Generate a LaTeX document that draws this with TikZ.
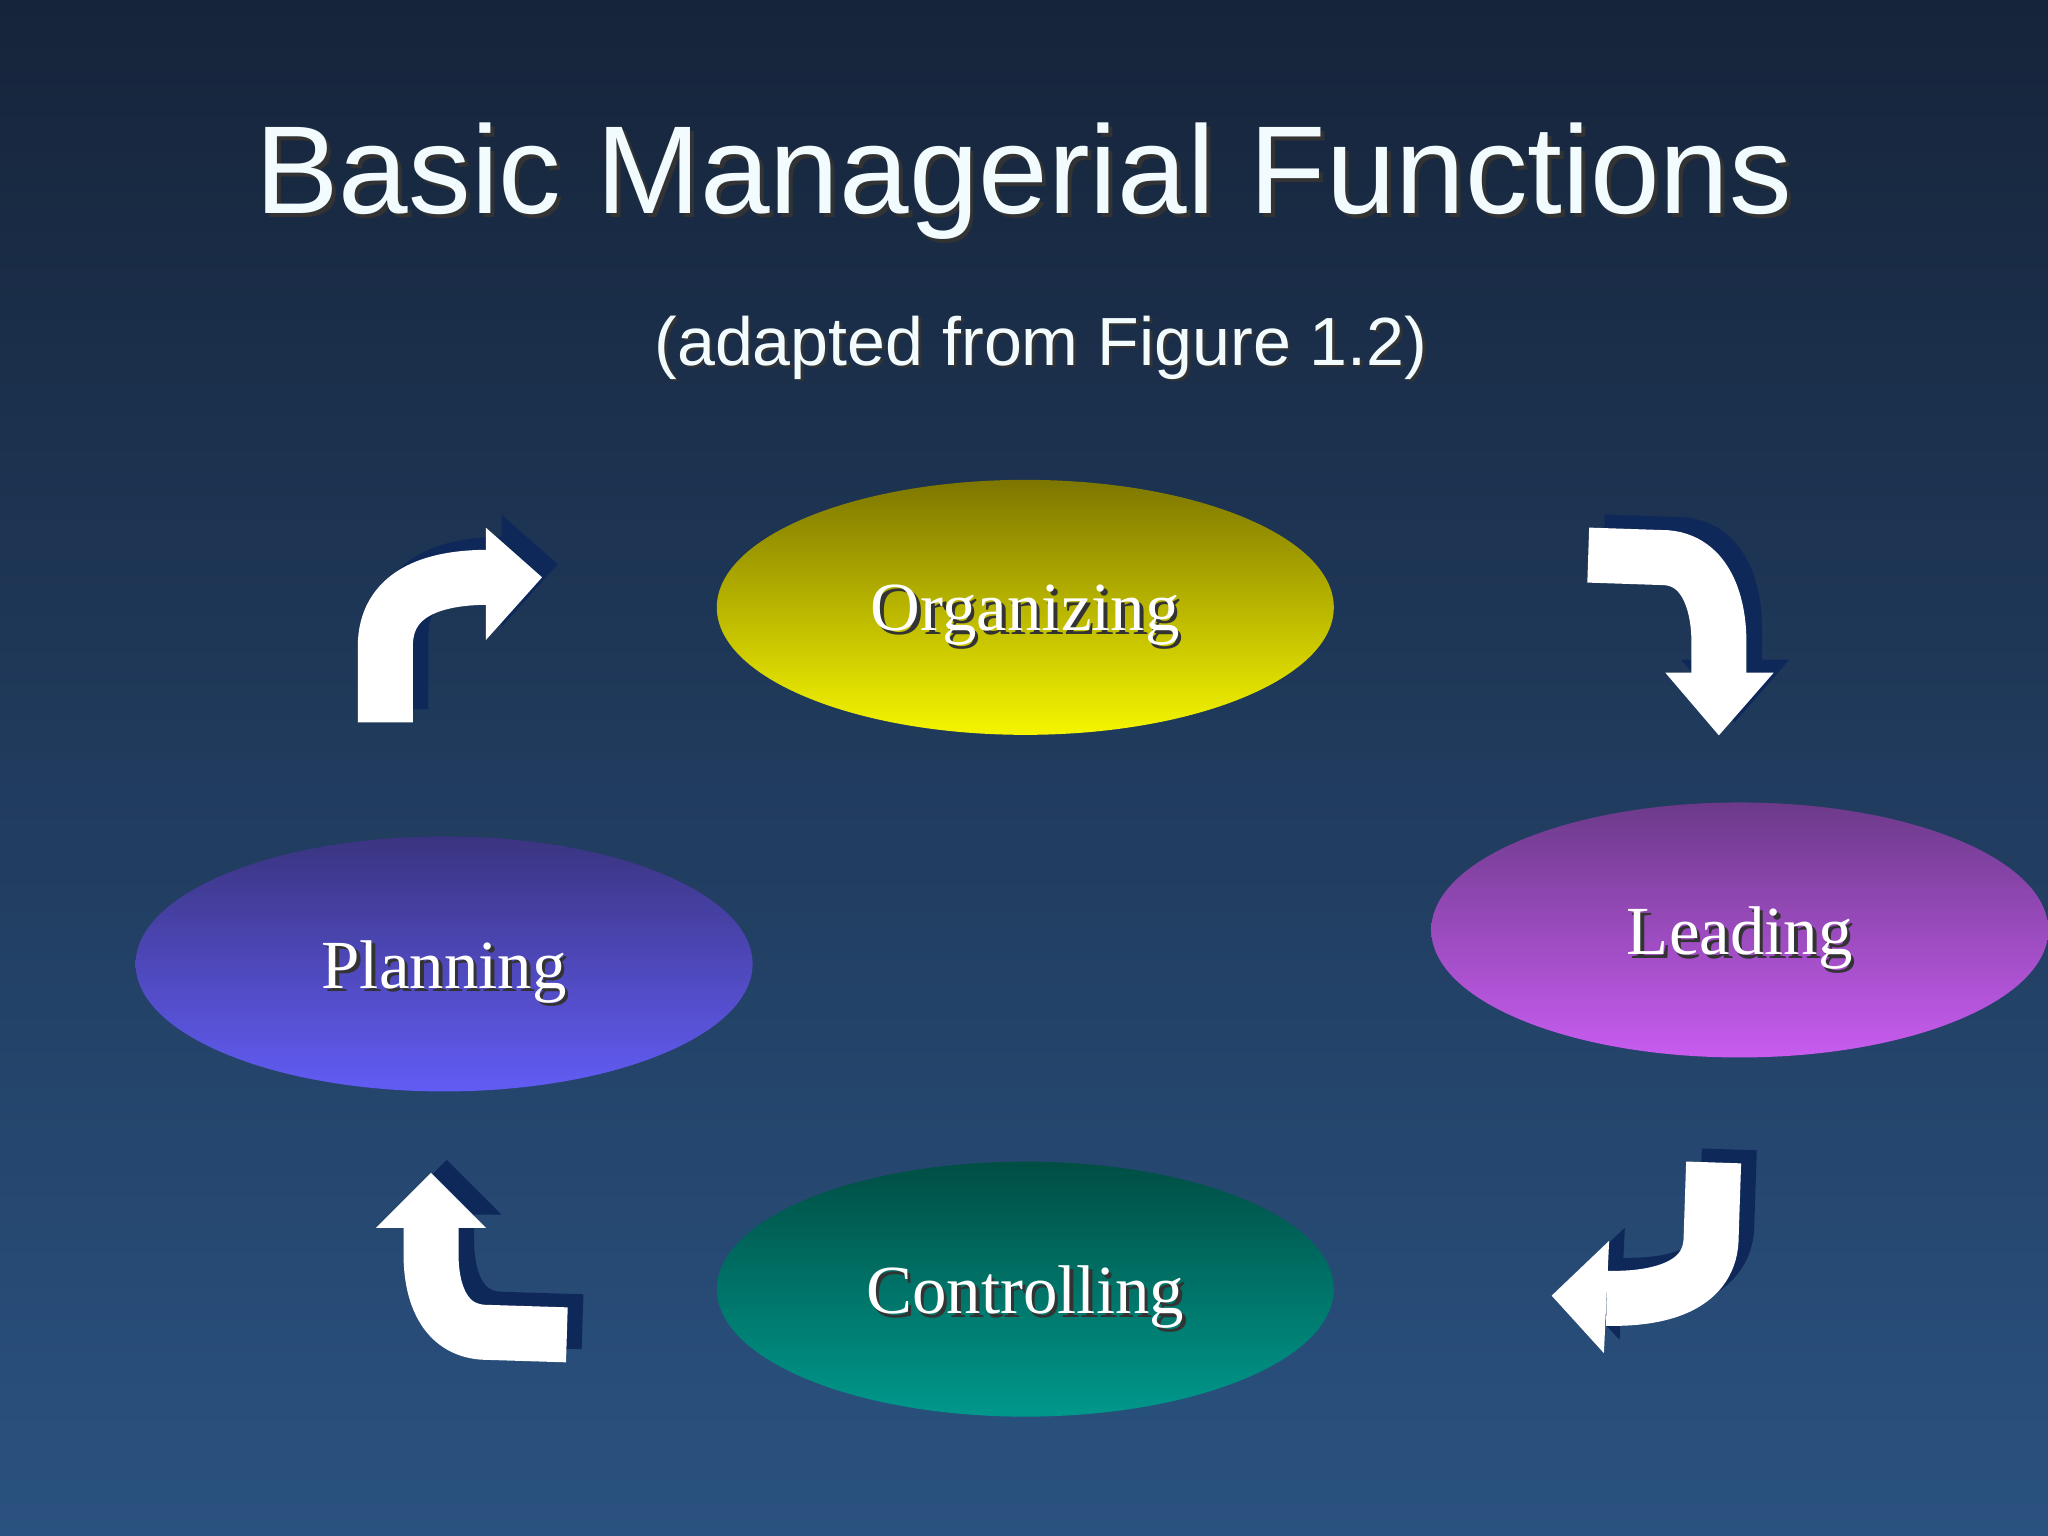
\documentclass[tikz,border=0pt]{standalone}
\usepackage{fontspec}
\setmainfont{Liberation Serif}
\newfontfamily\sans{Liberation Sans}
\usetikzlibrary{shapes.geometric,shadows}
\definecolor{bgtop}{RGB}{22,36,58}
\definecolor{bgbot}{RGB}{42,82,128}
\definecolor{shad}{RGB}{15,40,90}
\begin{document}
\begin{tikzpicture}[x=0.01306cm,y=-0.01306cm,
  ell/.style={ellipse,draw=none,text=white,minimum width=6.17cm,minimum height=2.55cm},
  shaft/.style={line width=0.55cm},
  txtshadow/.style={text=black!80}]
\useasboundingbox (0,0) rectangle (1568,1176);
\shade[top color=bgtop,bottom color=bgbot] (0,0) rectangle (1568,1176);
% title
\node[txtshadow,font=\sans\fontsize{35.6}{40}\selectfont] at (787,142) {Basic Managerial Functions};
\node (title) [text=white!95!cyan,font=\sans\fontsize{35.6}{40}\selectfont] at (784,139) {Basic Managerial Functions};
\node[txtshadow,font=\sans\fontsize{19.4}{23}\selectfont] at (799,268) {(adapted from Figure 1.2)};
\node (sub) [text=white!95!cyan,font=\sans\fontsize{19.4}{23}\selectfont] at (797,266) {(adapted from Figure 1.2)};
% ellipses
\node (org) [ell,top color={rgb,255:red,125;green,118;blue,0},bottom color={rgb,255:red,245;green,245;blue,0}] at (785,465) {};
\node (lead) [ell,top color={rgb,255:red,108;green,58;blue,138},bottom color={rgb,255:red,200;green,92;blue,240}] at (1332,712) {};
\node (plan) [ell,top color={rgb,255:red,58;green,52;blue,128},bottom color={rgb,255:red,98;green,92;blue,245}] at (340,738) {};
\node (ctrl) [ell,top color={rgb,255:red,0;green,78;blue,68},bottom color={rgb,255:red,0;green,152;blue,140}] at (785,987) {};
\foreach \n/\t in {org/Organizing,lead/Leading,plan/Planning,ctrl/Controlling}{
  \node[txtshadow,font=\fontsize{19.6}{23}\selectfont] at ([xshift=1pt,yshift=-3.3pt]\n) {\t};
  \node[text=white,font=\fontsize{19.6}{23}\selectfont] at ([yshift=-2.3pt]\n) {\t};
}
% arrows
\newcommand{\arrowA}{%
 \draw[shaft] (295,553) -- (295,495) .. controls (295,455) and (330,442) .. (374,442);
 \fill (372,404) -- (415,442) -- (372,490) -- cycle;}
\newcommand{\arrowB}{%
 \draw[shaft] (1216,425) -- (1276,427) .. controls (1310,430) and (1316,470) .. (1316,490) -- (1316,517);
 \fill (1275,515) -- (1316,563) -- (1358,515) -- cycle;}
\newcommand{\arrowC}{%
 \draw[shaft] (1312,890) -- (1310,950) .. controls (1308,985) and (1270,995) .. (1230,994);
 \fill (1232,950) -- (1188,992) -- (1228,1036) -- cycle;}
\newcommand{\arrowD}{%
 \draw[shaft] (434,1022) -- (370,1020) .. controls (340,1018) and (330,990) .. (330,960) -- (330,938);
 \fill (288,940) -- (330,898) -- (372,940) -- cycle;}
\begin{scope}[shift={(12,-10)},draw=shad,fill=shad]
 \arrowA \arrowB \arrowC \arrowD
\end{scope}
\begin{scope}[draw=white,fill=white]
 \arrowA \arrowB \arrowC \arrowD
\end{scope}
\end{tikzpicture}
\end{document}
